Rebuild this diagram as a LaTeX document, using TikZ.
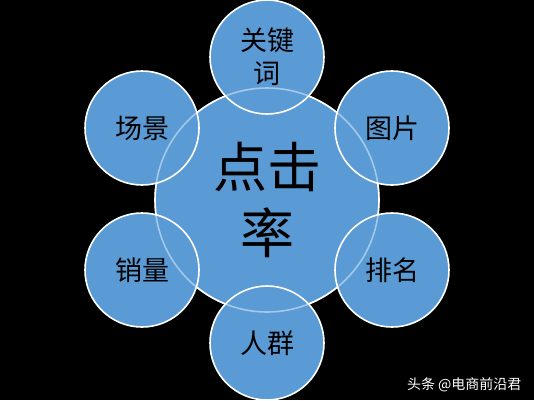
\documentclass[tikz,border=0pt]{standalone}
\usepackage{fontspec}
\newfontfamily\cjk{Noto Sans CJK SC}
\definecolor{ballblue}{HTML}{5B9BD5}
\tikzset{
  hub/.style={circle, fill=ballblue, draw=white, line width=1.6pt, minimum size=224pt, inner sep=0pt,
    font=\cjk\fontsize{54}{66}\selectfont, align=center},
  sat/.style={circle, fill=ballblue, draw=white, line width=1.6pt,
    minimum size=114pt, inner sep=0pt, font=\cjk\fontsize{27}{33}\selectfont, align=center}
}
\begin{document}
\begin{tikzpicture}[x=1pt, y=-1pt]
    \fill [black] (0,0) rectangle (534,400) ;
    \useasboundingbox (0,0) rectangle (534,400) ;

    \node [hub] (hub) at (267,200) {} ;

    \node [sat] (keyword) at (267,57) {关键\\词} ;
    \node [sat] (scene) at (142,128) {场景} ;
    \node [sat] (image) at (392,128) {图片} ;
    \node [sat] (sales) at (142,270) {销量} ;
    \node [sat] (rank) at (392,270) {排名} ;
    \node [sat] (crowd) at (267,343) {人群} ;

    % faint outline of the hub seen through the satellites
    \draw [white, opacity=0.45, line width=1.6pt] (hub.center) circle (112pt) ;
    \node [font=\cjk\fontsize{54}{66}\selectfont, align=center] (hubtext) at (hub.center) {点击\\率} ;

    \node [text=white, font=\cjk\fontsize{14}{16}\selectfont, anchor=east] (mark) at (525,385) {头条 @电商前沿君} ;
\end{tikzpicture}
\end{document}
